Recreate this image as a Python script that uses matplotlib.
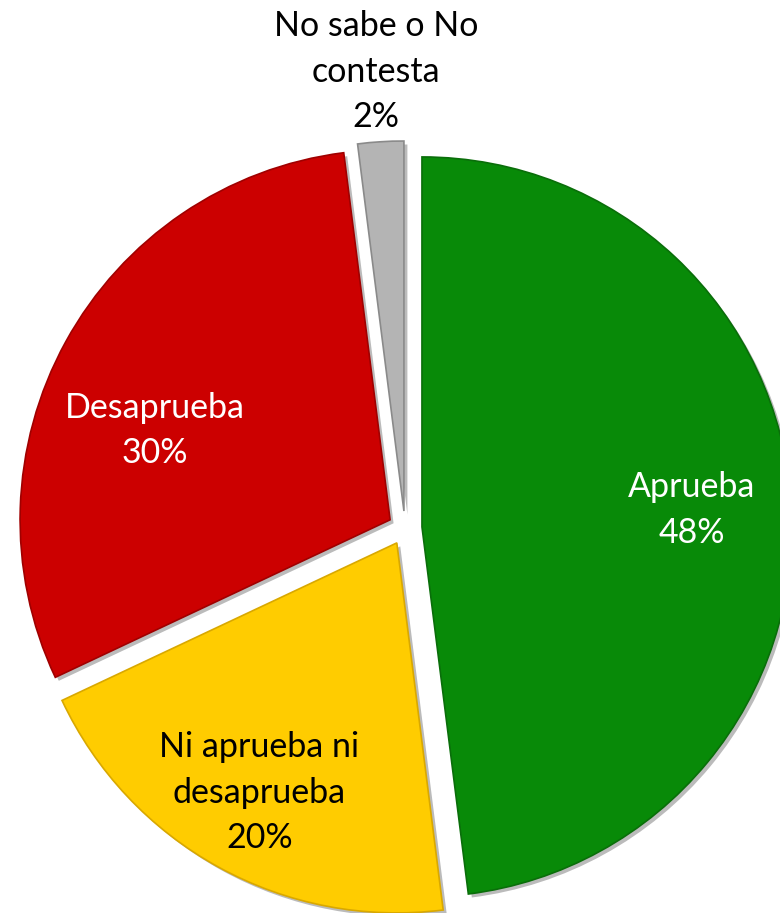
import matplotlib.pyplot as plt
import matplotlib.patheffects as pe
import numpy as np

categorias = ['Aprueba', 'Ni aprueba ni\ndesaprueba', 'Desaprueba', 'No sabe o No\ncontesta']
porcentajes = [48, 20, 30, 2]
colores = ['#088A08', '#FFCC00', '#CC0000', '#B4B4B4']
bordes = ['#0A6E0A', '#D9A800', '#A00000', '#8A8A8A']
colores_texto = ['white', 'black', 'white', 'black']
# distancia de la etiqueta (fraccion del radio) y ajuste de angulo en grados
dist_etiqueta = [0.73, 0.77, 0.68, 1.19]
giro_etiqueta = [0, 0, 8, 0]

plt.rcParams['font.family'] = ['Lato', 'DejaVu Sans']

fig = plt.figure(figsize=(7.8, 9.13), dpi=100)
ax = fig.add_axes([0, 0, 1, 1])

centro = (405, 385)
radio = 370
sep = 17

wedges, _ = ax.pie(porcentajes, colors=colores, startangle=90, counterclock=False,
                   center=centro, radius=radio, explode=[sep] * len(porcentajes),
                   wedgeprops=dict(linewidth=1.2))

for w, borde in zip(wedges, bordes):
    w.set_edgecolor(borde)
    w.set_path_effects([pe.SimplePatchShadow(offset=(2.5, -2.5), shadow_rgbFace='#555555', alpha=0.4),
                        pe.Normal()])

for w, cat, p, col, d, g in zip(wedges, categorias, porcentajes, colores_texto,
                                dist_etiqueta, giro_etiqueta):
    ang = np.deg2rad((w.theta1 + w.theta2) / 2 + g)
    cx, cy = w.center
    ax.text(cx + d * radio * np.cos(ang), cy + d * radio * np.sin(ang),
            f'{cat}\n{p}%', ha='center', va='center', multialignment='center',
            color=col, fontsize=24.5, linespacing=1.52)

ax.set_xlim(0, 780)
ax.set_ylim(0, 913)
ax.set_aspect('equal')
ax.axis('off')

fig.savefig('out.png', dpi=100)
